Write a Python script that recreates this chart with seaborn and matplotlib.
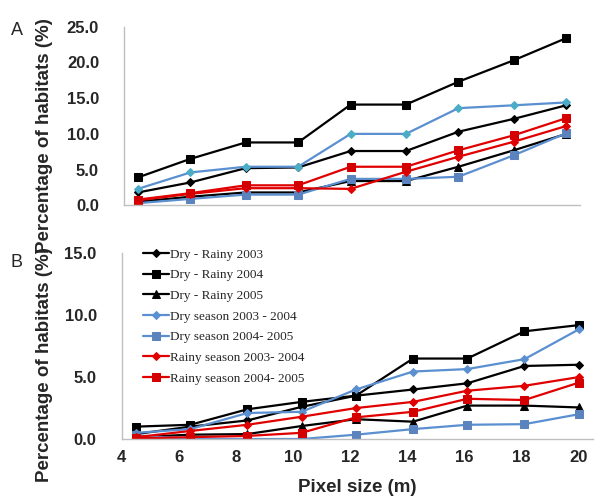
import seaborn as sns
import matplotlib.pyplot as plt
import pandas as pd

# ==========================================
# DATA
# ==========================================
pixel_size = [4.5, 6.4, 8.4, 10.3, 12.2, 14.2, 16.1, 18.1, 20.0]

series_names = [
    "Dry - Rainy 2003",
    "Dry - Rainy 2004",
    "Dry - Rainy 2005",
    "Dry season 2003 - 2004",
    "Dry season 2004- 2005",
    "Rainy season 2003- 2004",
    "Rainy season 2004- 2005",
]

# Panel A
a_dry_rainy_2003 = [1.8, 3.2, 5.2, 5.3, 7.6, 7.6, 10.3, 12.1, 14.0]
a_dry_rainy_2004 = [3.9, 6.5, 8.8, 8.8, 14.1, 14.1, 17.3, 20.3, 23.4]
a_dry_rainy_2005 = [0.5, 1.2, 1.8, 1.8, 3.4, 3.4, 5.4, 7.7, 10.0]
a_dry_0304 = [2.3, 4.6, 5.4, 5.4, 10.0, 10.0, 13.6, 14.0, 14.4]
a_dry_0405 = [0.3, 0.9, 1.5, 1.5, 3.7, 3.7, 4.0, 7.0, 10.1]
a_rainy_0304 = [0.7, 1.6, 2.4, 2.4, 2.3, 4.7, 6.8, 8.9, 11.1]
a_rainy_0405 = [0.8, 1.7, 2.8, 2.8, 5.4, 5.4, 7.7, 9.8, 12.2]

# Panel B
b_dry_rainy_2003 = [0.4, 1.0, 1.5, 2.6, 3.5, 4.0, 4.5, 5.9, 6.0]
b_dry_rainy_2004 = [1.0, 1.15, 2.4, 3.0, 3.5, 6.5, 6.5, 8.7, 9.2]
b_dry_rainy_2005 = [0.15, 0.35, 0.4, 1.05, 1.6, 1.4, 2.7, 2.7, 2.55]
b_dry_0304 = [0.5, 0.8, 2.1, 2.2, 4.0, 5.45, 5.65, 6.45, 8.85]
b_dry_0405 = [0.3, 0.0, 0.0, 0.0, 0.35, 0.8, 1.15, 1.2, 2.0]
b_rainy_0304 = [0.15, 0.65, 1.15, 1.8, 2.5, 3.0, 3.9, 4.3, 5.0]
b_rainy_0405 = [0.05, 0.15, 0.25, 0.5, 1.75, 2.2, 3.25, 3.15, 4.55]

panel_a = [a_dry_rainy_2003, a_dry_rainy_2004, a_dry_rainy_2005, a_dry_0304,
           a_dry_0405, a_rainy_0304, a_rainy_0405]
panel_b = [b_dry_rainy_2003, b_dry_rainy_2004, b_dry_rainy_2005, b_dry_0304,
           b_dry_0405, b_rainy_0304, b_rainy_0405]

# style per series: line colour, marker, marker size, marker colour (A), marker colour (B)
styles = [
    ("black", "D", 4.2, "black", "black"),
    ("black", "s", 5.5, "black", "black"),
    ("black", "^", 6.0, "black", "black"),
    ("#5a8fd0", "D", 4.2, "#4bacc6", "#5a8fd0"),
    ("#5a8fd0", "s", 5.5, "#5b84bf", "#5b84bf"),
    ("#e00000", "D", 4.2, "#e00000", "#e00000"),
    ("#e00000", "s", 5.5, "#d40000", "#d40000"),
]

# ==========================================
# PLOT
# ==========================================
sns.set_style("white")
plt.rcParams['font.family'] = ['Liberation Sans', 'DejaVu Sans']

fig = plt.figure(figsize=(6, 5.03), dpi=100)
ax_a = fig.add_axes([0.2067, 0.5918, 0.76, 0.3551])
ax_b = fig.add_axes([0.2028, 0.1272, 0.7855, 0.3692])

for ax, panel, mcol_idx in [(ax_a, panel_a, 3), (ax_b, panel_b, 4)]:
    for name, values, st in zip(series_names, panel, styles):
        df = pd.DataFrame({'pixel': pixel_size, 'pct': values})
        sns.lineplot(data=df, x='pixel', y='pct', ax=ax, color=st[0],
                     marker=st[1], markersize=st[2], markerfacecolor=st[mcol_idx],
                     markeredgecolor=st[mcol_idx], linewidth=1.6, label=name)

for ax in (ax_a, ax_b):
    ax.set_xlim(4, 20.5)
    for side in ('top', 'right'):
        ax.spines[side].set_visible(False)
    for side in ('left', 'bottom'):
        ax.spines[side].set_color('#bfbfbf')
        ax.spines[side].set_linewidth(1.0)
    ax.tick_params(axis='y', length=4, color='#bfbfbf', width=1.0,
                   labelsize=12, pad=14)
    ax.tick_params(axis='x', length=0, labelsize=12, pad=8)
    ax.set_ylabel('Percentage of habitats (%)', fontsize=13.5, fontweight='bold')

ax_a.set_ylim(0, 25)
ax_a.set_yticks([0, 5, 10, 15, 20, 25])
ax_a.set_yticklabels([f"{v:.1f}" for v in [0, 5, 10, 15, 20, 25]], fontweight='bold')
ax_a.set_xticks([])
ax_a.set_xlabel('')
ax_a.get_legend().remove()
ax_a.yaxis.set_label_coords(-0.156, 0.39)

ax_b.set_ylim(0, 15)
ax_b.set_yticks([0, 5, 10, 15])
ax_b.set_yticklabels([f"{v:.1f}" for v in [0, 5, 10, 15]], fontweight='bold')
ax_b.set_xticks([4, 6, 8, 10, 12, 14, 16, 18, 20])
ax_b.set_xticklabels(['4', '6', '8', '10', '12', '14', '16', '18', '20'], fontweight='bold')
ax_b.set_xlabel('Pixel size (m)', fontsize=13.5, fontweight='bold', labelpad=10)
ax_b.yaxis.set_label_coords(-0.146, 0.40)

leg = ax_b.legend(loc='upper left', bbox_to_anchor=(0.035, 1.055), frameon=False,
                  prop={'family': 'Liberation Serif', 'size': 9.5},
                  handlelength=1.9, handletextpad=0.1, labelspacing=0.64,
                  borderaxespad=0)

fig.text(0.018, 0.94, 'A', fontsize=13, ha='left', va='center')
fig.text(0.018, 0.478, 'B', fontsize=13, ha='left', va='center')

plt.savefig('out.png', dpi=100)
